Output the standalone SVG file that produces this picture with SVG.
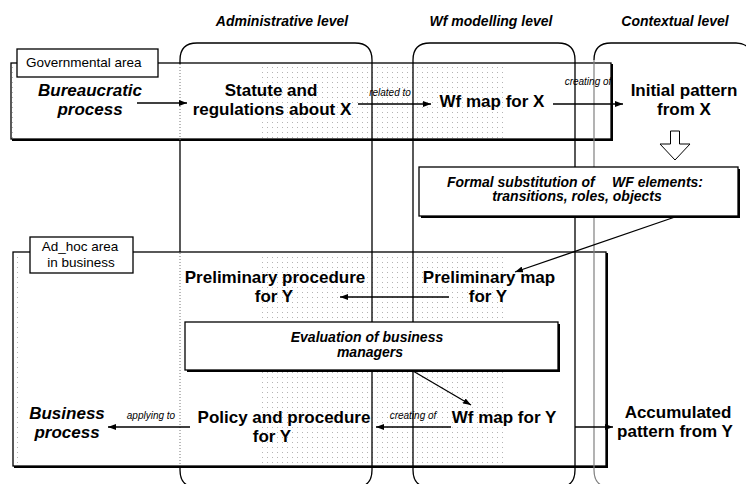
<svg xmlns="http://www.w3.org/2000/svg" width="746" height="484" viewBox="0 0 746 484">
<defs>
<pattern id="dots" width="5" height="5" patternUnits="userSpaceOnUse"><rect x="2" y="2" width="1" height="1" fill="#b4b4b4"/></pattern>
<marker id="ah" viewBox="0 0 8 6" refX="8" refY="3" markerWidth="8" markerHeight="6" markerUnits="userSpaceOnUse" orient="auto"><path d="M0,0 L8,3 L0,6 z" fill="#000"/></marker>
</defs>
<style>
.t{font-family:"Liberation Sans",Arial,sans-serif;fill:#000}
.big{font-size:17px;font-weight:bold;text-anchor:middle}
.bi{font-size:17px;font-weight:bold;font-style:italic;text-anchor:middle}
.hd{font-size:14px;font-weight:bold;font-style:italic;text-anchor:middle}
.bx{font-size:14px;font-weight:bold;font-style:italic}
.lb{font-size:13.5px}
.sm{font-size:10px;font-style:italic;text-anchor:middle}
.ln{stroke:#000;stroke-width:1.3;fill:none}
.col{stroke:#000;stroke-width:1.3;fill:none}
.box{fill:#fff;stroke:#000;stroke-width:1.3}
.sh{fill:#000}
</style>

<g id="gov-area">
<rect x="12" y="64" width="601" height="77" class="sh"/>
<rect x="11" y="63" width="600" height="76" class="box"/>
<rect x="12" y="64" width="4" height="74.5" fill="url(#dots)"/>
<rect x="260" y="64" width="245" height="74.5" fill="url(#dots)"/>
</g>

<g id="adhoc-area">
<rect x="14" y="253" width="594" height="215" class="sh"/>
<rect x="13" y="252" width="593" height="214" class="box"/>
<rect x="14" y="253" width="4" height="212.5" fill="url(#dots)"/>
<rect x="260" y="253" width="245" height="212.5" fill="url(#dots)"/>
</g>

<g id="admin-col">
<path class="col" d="M180,64 L180,60 C180,49 185,43 197,43 L355,43 C367,43 372,49 372,60 L372,470 Q372,487 356,487"/>
<path class="col" d="M180,140 L180,252"/>
<path class="col" d="M180,466 L180,470 Q180,487 196,487"/>
<path d="M180,64 L180,140 M180,253 L180,466" stroke="#777" stroke-width="1" stroke-dasharray="1 2" fill="none"/>
<text class="t hd" x="282" y="26">Administrative level</text>
</g>

<g id="wf-col">
<path class="col" d="M413,470 L413,60 C413,49 418,43 430,43 L558,43 C570,43 575,49 575,60 L575,470 Q575,487 559,487 M413,470 Q413,487 429,487"/>
<text class="t hd" x="491" y="26">Wf modelling level</text>
</g>

<g id="ctx-col">
<path class="col" d="M594,60 C594,49 599,43 611,43 L736,43 C746,43 752,49 752,60"/>
<path d="M594,60 L594,470 Q594,487 610,487" stroke="#808080" stroke-width="1.2" fill="none"/>
<text class="t hd" x="675" y="26">Contextual level</text>
</g>

<g id="gov-label">
<rect x="17" y="49" width="141" height="28" class="box"/>
<text class="t lb" x="26" y="67">Governmental area</text>
</g>

<g id="adhoc-label">
<rect x="30" y="237" width="103" height="36" class="box"/>
<text class="t lb" x="80" y="251" text-anchor="middle">Ad_hoc area</text>
<text class="t lb" x="81" y="267" text-anchor="middle">in business</text>
</g>

<g id="formal-subst">
<rect x="421" y="169" width="319" height="49" class="sh"/>
<rect x="419" y="167" width="319" height="49" class="box"/>
<text class="t bx" x="447" y="187">Formal substitution of</text>
<text class="t bx" x="612" y="187">WF elements:</text>
<text class="t bx" x="577" y="201" text-anchor="middle">transitions, roles, objects</text>
</g>

<g id="evaluation">
<rect x="187" y="324" width="373" height="48" class="sh"/>
<rect x="185" y="322" width="373" height="48" class="box"/>
<text class="t bx" x="367" y="342" text-anchor="middle">Evaluation of business</text>
<text class="t bx" x="370" y="357" text-anchor="middle">managers</text>
</g>

<g id="bureaucratic">
<text class="t bi" x="90" y="96">Bureaucratic</text>
<text class="t bi" x="90" y="115">process</text>
</g>
<g id="statute">
<text class="t big" x="271" y="96">Statute and</text>
<text class="t big" x="272" y="115">regulations about X</text>
</g>
<g id="wfmap-x">
<text class="t big" x="492" y="107">Wf map for X</text>
</g>
<g id="initial-pattern">
<text class="t big" x="684" y="96">Initial pattern</text>
<text class="t big" x="684" y="115">from X</text>
</g>
<g id="prelim-proc">
<text class="t big" x="275" y="283">Preliminary procedure</text>
<text class="t big" x="274" y="302">for Y</text>
</g>
<g id="prelim-map">
<text class="t big" x="489" y="283">Preliminary map</text>
<text class="t big" x="488" y="302">for Y</text>
</g>
<g id="policy">
<text class="t big" x="284" y="423">Policy and procedure</text>
<text class="t big" x="272" y="442">for Y</text>
</g>
<g id="wfmap-y">
<text class="t big" x="504" y="423">Wf map for Y</text>
</g>
<g id="accumulated">
<text class="t big" x="678" y="418">Accumulated</text>
<text class="t big" x="675" y="437">pattern from Y</text>
</g>
<g id="business">
<text class="t bi" x="67" y="419">Business</text>
<text class="t bi" x="67" y="438">process</text>
</g>

<g id="connectors">
<line class="ln" x1="137" y1="103" x2="187" y2="103" marker-end="url(#ah)"/>
<line class="ln" x1="358" y1="104" x2="431" y2="104" marker-end="url(#ah)"/>
<text class="t sm" x="390" y="96">related to</text>
<line class="ln" x1="553" y1="104" x2="623" y2="104" marker-end="url(#ah)"/>
<text class="t sm" x="588" y="85">creating of</text>
<path d="M670.5,131 L679.5,131 L679.5,144 L690,144 L675,160 L660,144 L670.5,144 z" fill="#fff" stroke="#000" stroke-width="1"/>
<line class="ln" x1="675" y1="217" x2="515" y2="272" marker-end="url(#ah)"/>
<line class="ln" x1="449" y1="297" x2="340" y2="297" marker-end="url(#ah)"/>
<line class="ln" x1="413" y1="371" x2="471" y2="405" marker-end="url(#ah)"/>
<line class="ln" x1="451" y1="427" x2="376" y2="427" marker-end="url(#ah)"/>
<text class="t sm" x="413" y="419">creating of</text>
<line class="ln" x1="190" y1="427" x2="108" y2="427" marker-end="url(#ah)"/>
<text class="t sm" x="151" y="419">applying to</text>
<line class="ln" x1="575" y1="427" x2="613" y2="427" marker-end="url(#ah)"/>
</g>
</svg>
